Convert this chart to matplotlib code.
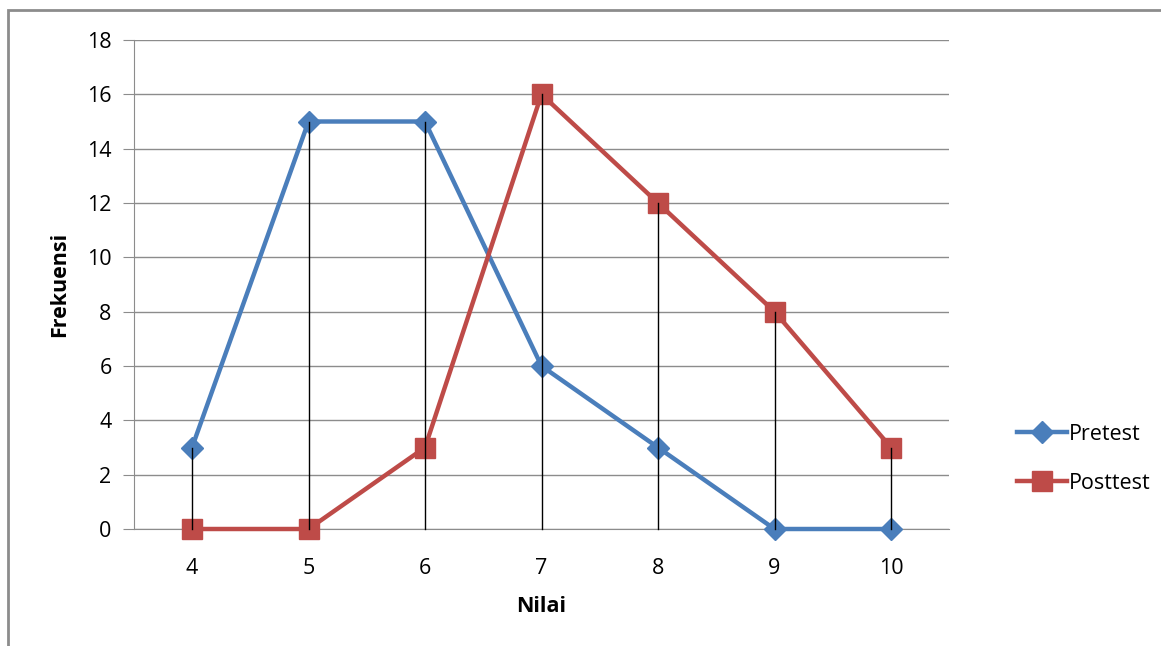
import matplotlib.pyplot as plt
from matplotlib.patches import Rectangle

nilai = [4, 5, 6, 7, 8, 9, 10]
pretest = [3, 15, 15, 6, 3, 0, 0]
posttest = [0, 0, 3, 16, 12, 8, 3]

plt.rcParams['font.family'] = ['Open Sans', 'DejaVu Sans']

W, H = 1161, 646
fig = plt.figure(figsize=(W / 100, H / 100), dpi=100)
ax = fig.add_axes([133.75 / W, 1 - 529 / H, (949.25 - 133.75) / W, (529 - 40) / H])

x = list(range(len(nilai)))
ax.plot(x, pretest, color='#4A7EBB', lw=3.2, marker='D', ms=11, label='Pretest',
        zorder=3, clip_on=False)
ax.plot(x, posttest, color='#BE4B48', lw=3.2, marker='s', ms=15, label='Posttest',
        zorder=3, clip_on=False)

# drop lines from the highest point to the axis
for i in x:
    ax.plot([i, i], [0, max(pretest[i], posttest[i])], color='black', lw=1, zorder=4,
            clip_on=False)

ax.set_xlim(-0.5, len(nilai) - 0.5)
ax.set_ylim(0, 18)
ax.set_yticks(range(0, 19, 2))
ax.set_xticks(x)
ax.set_xticklabels([str(n) for n in nilai])
ax.grid(axis='y', color='#8C8C8C', lw=1)
ax.set_axisbelow(True)
for s in ['top', 'right']:
    ax.spines[s].set_visible(False)
ax.spines['left'].set_color('#8C8C8C')
ax.spines['bottom'].set_color('#8C8C8C')
ax.tick_params(axis='y', length=8, color='#8C8C8C', labelsize=15.5, pad=8)
ax.tick_params(axis='x', length=0, labelsize=15.5, pad=21)

ax.set_ylabel('Frekuensi', fontsize=15.5, fontweight='bold', labelpad=12)
ax.set_xlabel('Nilai', fontsize=15.5, fontweight='bold', labelpad=12)

fig.legend(loc='center left', bbox_to_anchor=(998 / W, 1 - 459 / H), frameon=False,
           fontsize=15.5, handlelength=2.3, labelspacing=1.3, handletextpad=0.1)

fig.patches.append(Rectangle((8 / W, -0.1), 1.2, 1 - 10 / H + 0.1, transform=fig.transFigure,
                             fill=False, edgecolor='#8C8C8C', lw=2))

fig.savefig('out.png', dpi=100)
